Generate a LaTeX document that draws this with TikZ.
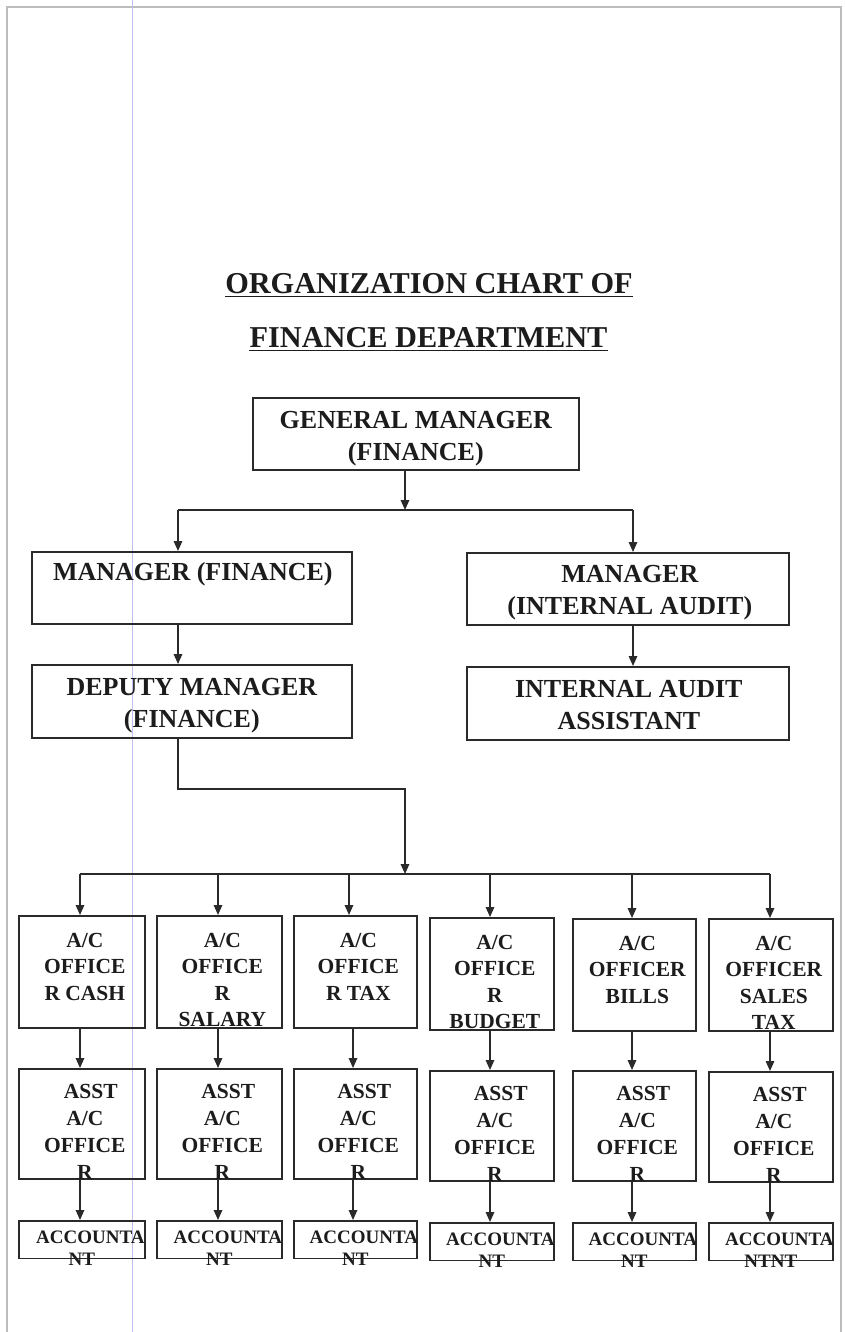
\documentclass[tikz,border=0pt]{standalone}
\usepackage{fontspec}
\setmainfont{Liberation Serif}
\usetikzlibrary{arrows.meta}
\definecolor{ink}{HTML}{1C1C1C}
\definecolor{ln}{HTML}{2A2A2A}
\definecolor{frame}{HTML}{BDBDBD}
\definecolor{margin}{HTML}{BFC0EC}
\begin{document}
\begin{tikzpicture}[x=1pt,y=-1pt,
  box/.style={draw=ln, line width=1.7pt, inner sep=0pt, anchor=north west},
  conn/.style={draw=ln, line width=1.6pt},
  arr/.style={conn, -{Triangle[length=10pt,width=8.5pt]}},
  titletxt/.style={font=\bfseries\fontsize{30.3}{36}\selectfont, text=ink, inner sep=0pt, anchor=base},
  uline/.style={draw=ink, line width=1.8pt},
  bigtxt/.style={font=\bfseries\fontsize{26}{32.5}\selectfont, text=ink, align=center, inner sep=0pt, anchor=north},
  midtxt/.style={font=\bfseries\fontsize{21.5}{26.5}\selectfont, text=ink, align=center, inner sep=0pt, anchor=north},
  asttxt/.style={font=\bfseries\fontsize{21.5}{27}\selectfont, text=ink, align=center, inner sep=0pt, anchor=north},
  acctxt/.style={font=\bfseries\fontsize{19}{22}\selectfont, text=ink, align=center, inner sep=0pt, anchor=north},
  pageframe/.style={draw=frame, line width=1.2pt},
  marginline/.style={draw=margin, line width=0.8pt}]
\useasboundingbox (0,0) rectangle (845,1332);
\fill[white] (0,0) rectangle (845,1332);
% page frame and margin line
\draw[pageframe] (7,1332) -- (7,7) -- (841,7) -- (841,1332);
\draw[marginline] (132,0) -- (132,1332);

% title
\node[titletxt] (tt1) at (429,293) {ORGANIZATION CHART OF};
\node[titletxt] (tt2) at (428.5,347) {FINANCE DEPARTMENT};
\draw[uline] ([yshift=-3.5pt]tt1.base west) -- ([yshift=-3.5pt]tt1.base east);
\draw[uline] ([yshift=-3.5pt]tt2.base west) -- ([yshift=-3.5pt]tt2.base east);

% upper boxes
\node[box, minimum width=326pt, minimum height=72pt] (gm) at (252,397) {};
\node[box, minimum width=320pt, minimum height=72pt] (mf) at (31,551) {};
\node[box, minimum width=322pt, minimum height=72pt] (mia) at (466,552) {};
\node[box, minimum width=320pt, minimum height=73pt] (dm) at (31,664) {};
\node[box, minimum width=322pt, minimum height=73pt] (iaa) at (466,666) {};

\node[bigtxt] (gmt) at (gm.north) {\rule{0pt}{31pt}GENERAL MANAGER\\(FINANCE)};
\node[bigtxt] (mft) at ([xshift=1pt]mf.north) {\rule{0pt}{29pt}MANAGER (FINANCE)};
\node[bigtxt] (miat) at ([xshift=2pt]mia.north) {\rule{0pt}{30pt}MANAGER\\(INTERNAL AUDIT)};
\node[bigtxt] (dmt) at (dm.north) {\rule{0pt}{31pt}DEPUTY MANAGER\\(FINANCE)};
\node[bigtxt] (iaat) at ([xshift=1pt]iaa.north) {\rule{0pt}{31pt}INTERNAL AUDIT\\ASSISTANT};

% upper connectors
\coordinate (j0) at (405,510);
\coordinate (jl) at (178,510);
\coordinate (jr) at (633,510);
\draw[arr] (j0 |- gm.south) -- (j0);
\draw[conn] (jl) -- (jr);
\draw[arr] (jl) -- (jl |- mf.north);
\draw[arr] (jr) -- (jr |- mia.north);
\draw[arr] (jl |- mf.south) -- (jl |- dm.north);
\draw[arr] (jr |- mia.south) -- (jr |- iaa.north);
\coordinate (k) at (405,874);
\draw[arr] (jl |- dm.south) -- ++(0,50) -| (k);

% lower boxes
\foreach \i/\x/\w/\a/\b/\c in {1/18/126/0/0/0, 2/156/125/0/0/0, 3/293/123/0/0/0, 4/429/124/2/2/2, 5/572/123/3/2/2, 6/708/124/3/3/2} {
  \node[box, minimum width=\w pt, minimum height=112pt] (r1c\i) at (\x,915+\a) {};
  \node[box, minimum width=\w pt, minimum height=110pt] (r2c\i) at (\x,1068+\b) {};
  \node[box, minimum width=\w pt, minimum height=37.5pt] (r3c\i) at (\x,1220+\c) {};
}

% bus and arrows
\coordinate (t1) at (80,874);
\coordinate (t2) at (218,874);
\coordinate (t3) at (349,874);
\coordinate (t4) at (490,874);
\coordinate (t5) at (632,874);
\coordinate (t6) at (770,874);
\draw[conn] (t1) -- (t6);
\foreach \i in {1,...,6} {
  \draw[arr] (t\i) -- (t\i |- r1c\i.north);
}
\coordinate (u1) at (80,1000);
\coordinate (u2) at (218,1000);
\coordinate (u3) at (353,1000);
\coordinate (u4) at (490,1000);
\coordinate (u5) at (632,1000);
\coordinate (u6) at (770,1000);
\foreach \i in {1,...,6} {
  \draw[arr] (u\i |- r1c\i.south) -- (u\i |- r2c\i.north);
  \draw[arr] (u\i |- r2c\i.south) -- (u\i |- r3c\i.north);
}

% row 1 texts
\node[midtxt] (r1t1) at ([xshift=3pt]r1c1.north) {\rule{0pt}{32pt}A/C\\OFFICE\\R CASH};
\node[midtxt] (r1t2) at ([xshift=3pt]r1c2.north) {\rule{0pt}{32pt}A/C\\OFFICE\\R\\SALARY};
\node[midtxt] (r1t3) at ([xshift=3pt]r1c3.north) {\rule{0pt}{32pt}A/C\\OFFICE\\R TAX};
\node[midtxt] (r1t4) at ([xshift=3pt]r1c4.north) {\rule{0pt}{32pt}A/C\\OFFICE\\R\\BUDGET};
\node[midtxt] (r1t5) at ([xshift=3pt]r1c5.north) {\rule{0pt}{32pt}A/C\\OFFICER\\BILLS};
\node[midtxt] (r1t6) at ([xshift=3pt]r1c6.north) {\rule{0pt}{32pt}A/C\\OFFICER\\SALES\\TAX};

% row 2 texts
\foreach \i in {1,...,6} {
  \node[asttxt] (r2t\i) at ([xshift=3pt]r2c\i.north) {\rule{0pt}{30pt}\hspace*{12pt}ASST\\A/C\\OFFICE\\R};
}

% row 3 texts
\foreach \i in {1,...,5} {
  \node[acctxt] (r3t\i) at (r3c\i.north) {\rule{0pt}{23pt}\hspace*{17pt}ACCOUNTA\\NT};
}
\node[acctxt] (r3t6) at (r3c6.north) {\rule{0pt}{23pt}\hspace*{17pt}ACCOUNTA\\NTNT};
\end{tikzpicture}
\end{document}
